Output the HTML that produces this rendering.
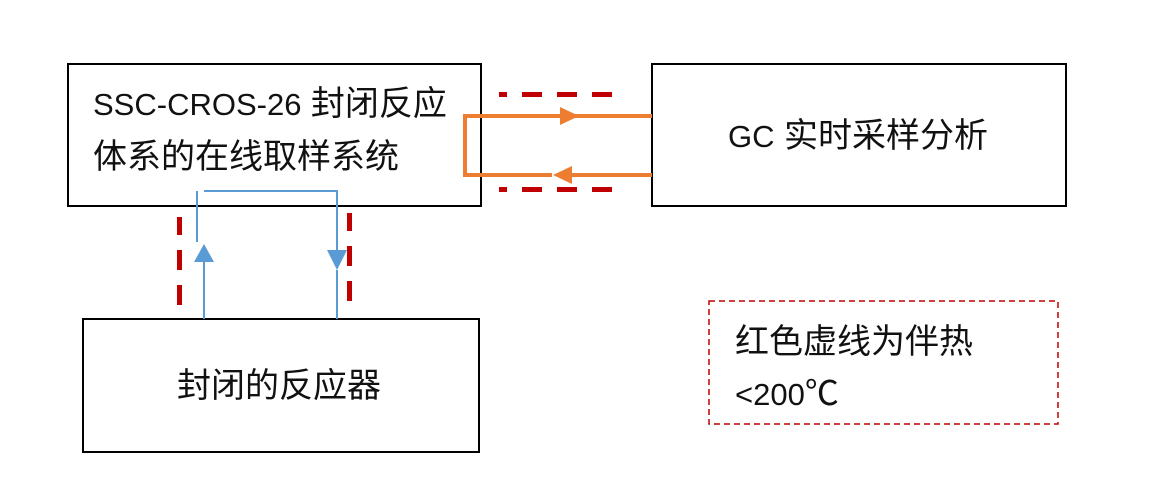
<!DOCTYPE html>
<html><head><meta charset="utf-8"><style>
body{margin:0;width:1163px;height:486px;background:#fff;overflow:hidden;position:relative;font-family:"Liberation Sans","Noto Sans CJK SC",sans-serif;}
.t{position:absolute;font-size:34px;color:#111;white-space:nowrap;line-height:52px;}
.l{font-size:31px;}
</style></head><body>
<svg width="1163" height="486" style="position:absolute;left:0;top:0">
<rect x="68" y="64" width="413" height="142" fill="none" stroke="#000" stroke-width="2"/>
<rect x="652" y="64" width="414" height="142" fill="none" stroke="#000" stroke-width="2"/>
<rect x="83" y="319" width="396" height="133" fill="none" stroke="#000" stroke-width="2"/>
<rect x="709" y="301" width="349" height="123" fill="none" stroke="#c00000" stroke-width="1.5" stroke-dasharray="6,4"/>
<g fill="#c00000">
<rect x="499" y="92" width="8" height="5"/><rect x="522" y="92" width="20" height="5"/><rect x="557" y="92" width="20" height="5"/><rect x="592" y="92" width="20" height="5"/>
<rect x="499" y="187" width="8" height="5"/><rect x="522" y="187" width="20" height="5"/><rect x="557" y="187" width="20" height="5"/><rect x="592" y="187" width="20" height="5"/>
<rect x="177" y="217" width="5" height="18"/><rect x="177" y="250" width="5" height="20"/><rect x="177" y="285" width="5" height="20"/>
<rect x="347" y="213" width="5" height="18"/><rect x="347" y="246" width="5" height="20"/><rect x="347" y="281" width="5" height="20"/>
</g>
<g stroke="#ed7d31" stroke-width="4" fill="none">
<polyline points="580,116 465,116 465,175 552,175"/>
<line x1="580" y1="116" x2="652" y2="116"/>
<line x1="572" y1="175" x2="652" y2="175"/>
</g>
<polygon points="560,107 579,116 560,125" fill="#ed7d31"/>
<polygon points="572,166 553,175 572,184" fill="#ed7d31"/>
<g stroke="#5b9bd5" stroke-width="2" fill="none">
<line x1="197" y1="191" x2="197" y2="242"/>
<polyline points="204,191 337,191 337,260"/>
<line x1="204" y1="260" x2="204" y2="319"/>
<line x1="337" y1="270" x2="337" y2="319"/>
</g>
<polygon points="194,262 204,244 214,262" fill="#5b9bd5"/>
<polygon points="327,250 347,250 337,270" fill="#5b9bd5"/>
</svg>
<div class="t" style="left:93px;top:78px"><span class="l">SSC-CROS-26</span> 封闭反应<br>体系的在线取样系统</div>
<div class="t" style="left:728px;top:110px"><span class="l">GC</span> 实时采样分析</div>
<div class="t" style="left:177px;top:360px">封闭的反应器</div>
<div class="t" style="left:735px;top:316px">红色虚线为伴热<br><span class="l">&lt;200</span>℃</div>
</body></html>
